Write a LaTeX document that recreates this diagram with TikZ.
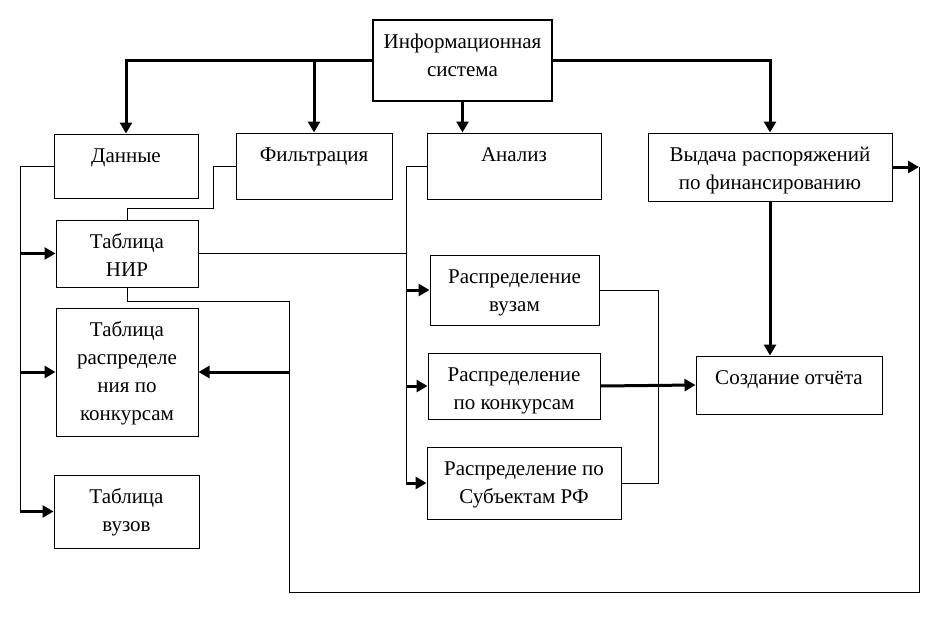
\documentclass[tikz,border=0pt]{standalone}
\usepackage{fontspec}
\setmainfont{Liberation Serif}
\usetikzlibrary{arrows.meta}
\newcommand\Cellbox[3]{%
  \parbox[c][#2][t]{#1}{\centering\rule{0pt}{28pt}#3}}

\begin{document}
\begin{tikzpicture}[x=1pt, y=-1pt,
blk/.style={
  draw, line width=1pt, inner sep=0pt,
  font=\fontsize{21}{28}\selectfont
},
arr/.style={line width=3pt, -{Triangle[length=11pt,width=12pt]}},
ln/.style={line width=1pt}]
\useasboundingbox (0,0) rectangle (930,640);
% blocks
\node (is) [blk, line width=2pt] at (462.5,60.5) {\Cellbox{179pt}{81pt}{Информационная\\система}};
\node (dan) [blk] at (126,166) {\Cellbox{144pt}{64pt}{Данные}};
\node (filt) [blk] at (314,166) {\Cellbox{156pt}{66pt}{Фильтрация}};
\node (anal) [blk] at (514,166) {\Cellbox{174pt}{66pt}{Анализ}};
\node (vyd) [blk] at (770,167) {\Cellbox{244pt}{68pt}{Выдача распоряжений\\по финансированию}};
\node (nir) [blk] at (127,253.5) {\Cellbox{142pt}{67pt}{Таблица\\НИР}};
\node (tkon) [blk] at (127,372) {\Cellbox{142pt}{128pt}{Таблица\\распределе\\ния по\\конкурсам}};
\node (tvuz) [blk] at (126.5,511.5) {\Cellbox{145pt}{73pt}{Таблица\\вузов}};
\node (rvuz) [blk] at (514.5,290) {\Cellbox{169pt}{70pt}{Распределение\\вузам}};
\node (rkon) [blk] at (514,386) {\Cellbox{172pt}{66pt}{Распределение\\по конкурсам}};
\node (rsub) [blk] at (524,483) {\Cellbox{194pt}{72pt}{Распределение по\\Субъектам РФ}};
\node (otch) [blk] at (789,385) {\Cellbox{186pt}{58pt}{Создание отчёта}};
% bus coordinates
\coordinate (lbus) at (20,0);
\coordinate (abus) at (406,0);
\coordinate (rbus) at (658,0);
\coordinate (loopA) at (289,301);
\coordinate (loopB) at (919,592);
% from the information system
\draw[arr] (is.west) -| (dan.north);
\draw[arr] (filt.north |- is.west) -- (filt.north);
\draw[arr] (is.south) -- (is.south |- anal.north);
\draw[arr] (is.east) -| (vyd.north);
\draw[arr] (vyd.south) -- (vyd.south |- otch.north);
\draw[arr] (vyd.east) -- (loopB |- vyd.east);
% left bus
\draw[ln] (dan.west) -| (lbus |- tvuz.west);
\foreach \n in {nir,tkon,tvuz}
  \draw[arr] (lbus |- \n.west) -- (\n.west);
\draw[ln] (filt.west) -| (213,208) -| (nir.north);
% analysis bus
\draw[ln] (anal.west) -| (abus |- rsub.west);
\foreach \n in {rvuz,rkon,rsub}
  \draw[arr] (abus |- \n.west) -- (\n.west);
\draw[ln] (nir.east) -- (abus |- nir.east);
\draw[ln] (rvuz.east) -| (rbus |- rsub.east) -- (rsub.east);
\draw[arr] (rkon.east) -- (otch.west);
% feedback loop
\draw[ln] (nir.south) |- (loopA) |- (loopB) -- (loopB |- vyd.east);
\draw[arr] (loopA |- tkon.east) -- (tkon.east);
\end{tikzpicture}
\end{document}
